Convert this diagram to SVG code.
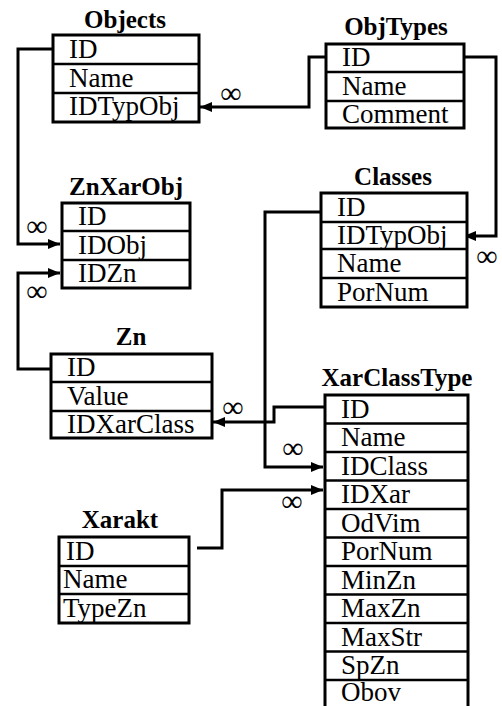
<svg xmlns="http://www.w3.org/2000/svg" width="502" height="706" viewBox="0 0 502 706">
<style>
.t{font-family:"Liberation Serif","Times New Roman",serif;font-size:25px;font-weight:bold;text-anchor:middle;fill:#000}
.r{font-family:"Liberation Serif","Times New Roman",serif;font-size:27px;fill:#000}
.box{fill:#fff;stroke:#000;stroke-width:3}
.sep{stroke:#000;stroke-width:2.5}
.c{fill:none;stroke:#000;stroke-width:3}
.inf{font-family:"Liberation Serif","Times New Roman",serif;font-size:30px;text-anchor:middle;fill:#000}
</style>
<defs>
<marker id="arr" viewBox="0 0 12 10" refX="12" refY="5" markerWidth="12" markerHeight="10" markerUnits="userSpaceOnUse" orient="auto">
<path d="M0,0 L12,5 L0,10 z" fill="#000"/>
</marker>
</defs>
<rect width="502" height="706" fill="#fff"/>

<g id="connectors">
<path class="c" d="M53,49 H18 V244 H60" marker-end="url(#arr)"/>
<path class="c" d="M326,57 H309 V107 H200" marker-end="url(#arr)"/>
<path class="c" d="M464,57 H496 V236 H464" marker-end="url(#arr)"/>
<path class="c" d="M51,369 H18 V273 H60" marker-end="url(#arr)"/>
<path class="c" d="M321,212 H265 V467 H323" marker-end="url(#arr)"/>
<path class="c" d="M325,407 H274 V422 H213" marker-end="url(#arr)"/>
<path class="c" d="M197,548 H222 V490 H323" marker-end="url(#arr)"/>
<text class="inf" x="231" y="103">∞</text>
<text class="inf" x="37" y="236">∞</text>
<text class="inf" x="37" y="301">∞</text>
<text class="inf" x="487" y="266">∞</text>
<text class="inf" x="233" y="417">∞</text>
<text class="inf" x="293" y="458">∞</text>
<text class="inf" x="292" y="511">∞</text>
</g>

<g id="Objects">
<text class="t" x="125" y="28">Objects</text>
<rect class="box" x="53" y="35" width="146" height="87"/>
<line class="sep" x1="53" y1="64" x2="199" y2="64"/>
<line class="sep" x1="53" y1="93" x2="199" y2="93"/>
<text class="r" x="69" y="58">ID</text>
<text class="r" x="69" y="87">Name</text>
<text class="r" x="69" y="115">IDTypObj</text>
</g>

<g id="ObjTypes">
<text class="t" x="396" y="35">ObjTypes</text>
<rect class="box" x="326" y="44" width="138" height="84"/>
<line class="sep" x1="326" y1="72" x2="464" y2="72"/>
<line class="sep" x1="326" y1="101" x2="464" y2="101"/>
<text class="r" x="342" y="66">ID</text>
<text class="r" x="342" y="95">Name</text>
<text class="r" x="342" y="123">Comment</text>
</g>

<g id="ZnXarObj">
<text class="t" x="126" y="195">ZnXarObj</text>
<rect class="box" x="62" y="203" width="128" height="85"/>
<line class="sep" x1="62" y1="231" x2="190" y2="231"/>
<line class="sep" x1="62" y1="260" x2="190" y2="260"/>
<text class="r" x="78" y="225">ID</text>
<text class="r" x="78" y="254">IDObj</text>
<text class="r" x="78" y="282">IDZn</text>
</g>

<g id="Classes">
<text class="t" x="393" y="185">Classes</text>
<rect class="box" x="321" y="193" width="146" height="114"/>
<line class="sep" x1="321" y1="222" x2="467" y2="222"/>
<line class="sep" x1="321" y1="249" x2="467" y2="249"/>
<line class="sep" x1="321" y1="278" x2="467" y2="278"/>
<text class="r" x="337" y="216">ID</text>
<text class="r" x="337" y="244">IDTypObj</text>
<text class="r" x="337" y="272">Name</text>
<text class="r" x="337" y="301">PorNum</text>
</g>

<g id="Zn">
<text class="t" x="131" y="345">Zn</text>
<rect class="box" x="51" y="354" width="161" height="84"/>
<line class="sep" x1="51" y1="382" x2="212" y2="382"/>
<line class="sep" x1="51" y1="411" x2="212" y2="411"/>
<text class="r" x="67" y="376">ID</text>
<text class="r" x="67" y="405">Value</text>
<text class="r" x="67" y="433">IDXarClass</text>
</g>

<g id="XarClassType">
<text class="t" x="397" y="386">XarClassType</text>
<rect class="box" x="325" y="395" width="143" height="314"/>
<line class="sep" x1="325" y1="423.5" x2="468" y2="423.5"/>
<line class="sep" x1="325" y1="452" x2="468" y2="452"/>
<line class="sep" x1="325" y1="480.5" x2="468" y2="480.5"/>
<line class="sep" x1="325" y1="509" x2="468" y2="509"/>
<line class="sep" x1="325" y1="537.5" x2="468" y2="537.5"/>
<line class="sep" x1="325" y1="566" x2="468" y2="566"/>
<line class="sep" x1="325" y1="594.5" x2="468" y2="594.5"/>
<line class="sep" x1="325" y1="623" x2="468" y2="623"/>
<line class="sep" x1="325" y1="651.5" x2="468" y2="651.5"/>
<line class="sep" x1="325" y1="680" x2="468" y2="680"/>
<text class="r" x="341" y="418">ID</text>
<text class="r" x="341" y="446">Name</text>
<text class="r" x="341" y="475">IDClass</text>
<text class="r" x="341" y="503">IDXar</text>
<text class="r" x="341" y="532">OdVim</text>
<text class="r" x="341" y="560">PorNum</text>
<text class="r" x="341" y="589">MinZn</text>
<text class="r" x="341" y="617">MaxZn</text>
<text class="r" x="341" y="646">MaxStr</text>
<text class="r" x="341" y="674">SpZn</text>
<text class="r" x="341" y="701">Obov</text>
</g>

<g id="Xarakt">
<text class="t" x="120" y="528">Xarakt</text>
<rect class="box" x="59" y="537" width="130" height="86"/>
<line class="sep" x1="59" y1="566" x2="189" y2="566"/>
<line class="sep" x1="59" y1="594" x2="189" y2="594"/>
<text class="r" x="66" y="560">ID</text>
<text class="r" x="63" y="588">Name</text>
<text class="r" x="63" y="617">TypeZn</text>
</g>
</svg>
